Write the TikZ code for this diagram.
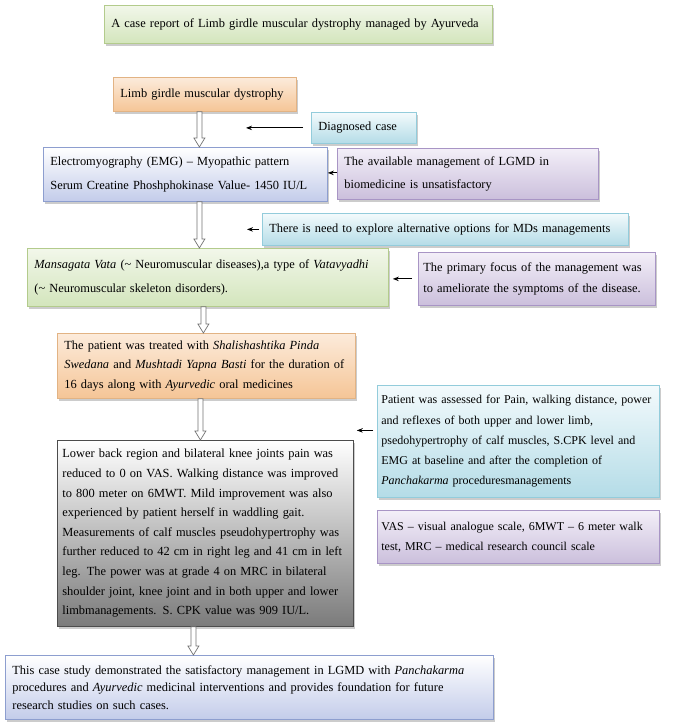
\documentclass[tikz,border=0pt]{standalone}
\usepackage{fontspec}
\setmainfont{Liberation Serif}
\usetikzlibrary{arrows.meta, shadows, calc}

\definecolor{grntop}{HTML}{F2F7EA}
\definecolor{grnbot}{HTML}{D3E5BC}
\definecolor{grnline}{HTML}{B3CB8C}
\definecolor{orgtop}{HTML}{FCEBDB}
\definecolor{orgbot}{HTML}{F5C596}
\definecolor{orgline}{HTML}{E2B384}
\definecolor{blutop}{HTML}{F3FAFC}
\definecolor{blubot}{HTML}{B4DCE7}
\definecolor{bluline}{HTML}{93CCDB}
\definecolor{lavtop}{HTML}{FFFFFF}
\definecolor{lavbot}{HTML}{C3CCEA}
\definecolor{lavline}{HTML}{8D9ECF}
\definecolor{prptop}{HTML}{F3EFF8}
\definecolor{prpbot}{HTML}{CBBFDC}
\definecolor{prpline}{HTML}{A895C5}

\newcommand{\boxfont}[1]{\fontsize{12.4}{#1}\selectfont}
\newcommand{\notefont}[1]{\fontsize{12}{#1}\selectfont}

\tikzset{
  card/.style={draw=#1, line width=0.8pt, anchor=north west, align=left,
    inner xsep=7pt, inner ysep=0pt,
    drop shadow={shadow xshift=2pt, shadow yshift=-3pt, opacity=0.4}},
  greencard/.style={card=grnline, top color=grntop, bottom color=grnbot},
  orangecard/.style={card=orgline, top color=orgtop, bottom color=orgbot},
  bluecard/.style={card=bluline, top color=blutop, bottom color=blubot},
  lavcard/.style={card=lavline, top color=lavtop, bottom color=lavbot},
  purplecard/.style={card=prpline, top color=prptop, bottom color=prpbot},
  greycard/.style={card=black!70, top color=white, bottom color=black!52},
  thinarr/.style={-{Stealth[length=6pt, width=4.5pt]}, line width=1pt},
  hollow/.style={draw=black!55, fill=white, line width=0.7pt,
    to path={let \p1=(\tikztostart), \p2=(\tikztotarget) in
      (\x1-2.5pt,\y1) -- (\x1-2.5pt,\y2+9pt) -- (\x1-5.5pt,\y2+9pt) -- (\x1,\y2)
      -- (\x1+5.5pt,\y2+9pt) -- (\x1+2.5pt,\y2+9pt) -- (\x1+2.5pt,\y1) -- cycle}}
}

\begin{document}
\begin{tikzpicture}[x=1pt, y=-1pt]
\useasboundingbox (0,0) rectangle (679,723);

% main column
\node[greencard, minimum width=388pt, minimum height=38pt, text width=374pt, font=\boxfont{15}] (title) at (104,5)
  {A case report of Limb girdle muscular dystrophy managed by Ayurveda};
\node[orangecard, minimum width=183pt, minimum height=34pt, text width=169pt, font=\boxfont{15}] (lgmd) at (113,77)
  {Limb girdle muscular dystrophy};
\node[lavcard, minimum width=284pt, minimum height=54pt, text width=270pt, font=\boxfont{24}] (emg) at (43,147)
  {Electromyography (EMG) -- Myopathic pattern\\Serum Creatine Phoshphokinase Value- 1450 IU/L};
\node[greencard, minimum width=361pt, minimum height=58pt, text width=347pt, font=\boxfont{24}] (mans) at (27,248)
  {\textit{Mansagata Vata} (\textasciitilde{} Neuromuscular diseases),a type of \textit{Vatavyadhi}\\(\textasciitilde{} Neuromuscular skeleton disorders).};
\node[orangecard, minimum width=298pt, minimum height=65pt, text width=284pt, font=\boxfont{19.5}] (treat) at (57,333)
  {The patient was treated with \textit{Shalishashtika Pinda}\\\textit{Swedana} and \textit{Mushtadi Yapna Basti} for the duration of\\16 days along with \textit{Ayurvedic} oral medicines};
\node[greycard, minimum width=296pt, minimum height=186pt, text width=286pt, inner xsep=5pt, font=\boxfont{19.6}] (outc) at (57,440)
  {Lower back region and bilateral knee joints pain was\\
   reduced to 0 on VAS. Walking distance was improved\\
   to 800 meter on 6MWT. Mild improvement was also\\
   experienced by patient herself in waddling gait.\\
   Measurements of calf muscles pseudohypertrophy was\\
   further reduced to 42 cm in right leg and 41 cm in left\\
   leg. The power was at grade 4 on MRC in bilateral\\
   shoulder joint, knee joint and in both upper and lower\\
   limbmanagements. S. CPK value was 909 IU/L.};
\node[lavcard, minimum width=488pt, minimum height=64pt, text width=474pt, font=\boxfont{17.5}] (concl) at (5,655)
  {This case study demonstrated the satisfactory management in LGMD with \textit{Panchakarma}\\
   procedures and \textit{Ayurvedic} medicinal interventions and provides foundation for future\\
   research studies on such cases.};

% side notes
\node[bluecard, minimum width=105pt, minimum height=31pt, text width=91pt, font=\boxfont{15}] (diag) at (311,112)
  {Diagnosed case};
\node[purplecard, minimum width=261pt, minimum height=51pt, text width=247pt, font=\boxfont{23}] (avail) at (337,148)
  {The available management of LGMD in\\biomedicine is unsatisfactory};
\node[bluecard, minimum width=366pt, minimum height=32pt, text width=352pt, font=\boxfont{15}] (need) at (262,213)
  {There is need to explore alternative options for MDs managements};
\node[purplecard, minimum width=237pt, minimum height=53pt, text width=227pt, inner xsep=5pt, font=\boxfont{21}] (prim) at (418,252)
  {The primary focus of the management was\\to ameliorate the symptoms of the disease.};
\node[bluecard, minimum width=282pt, minimum height=112pt, text width=274pt, inner xsep=4pt, font=\notefont{20.3}] (assess) at (377,385)
  {Patient was assessed for Pain, walking distance, power\\
   and reflexes of both upper and lower limb,\\
   psedohypertrophy of calf muscles, S.CPK level and\\
   EMG at baseline and after the completion of\\
   \textit{Panchakarma} proceduresmanagements};
\node[purplecard, minimum width=282pt, minimum height=53pt, text width=274pt, inner xsep=4pt, font=\notefont{20}] (abbr) at (377,510)
  {VAS -- visual analogue scale, 6MWT -- 6 meter walk\\test, MRC -- medical research council scale};

% hollow flow arrows
\draw[hollow] ([xshift=-5.5pt]lgmd.south) to (emg.north);
\draw[hollow] ([xshift=14pt]emg.south) to (mans.north);
\draw[hollow] ([xshift=-4.5pt]mans.south) to (treat.north);
\draw[hollow] ([xshift=-6pt]treat.south) to (outc.north);
\draw[hollow] ([xshift=-12pt]outc.south) to (concl.north);

% thin arrows
\draw[thinarr] ([xshift=-8pt]diag.west) -- ++(-57,0);
\draw[thinarr] ([yshift=1pt]avail.west) -- ([yshift=1pt]avail.west -| emg.east);
\draw[thinarr] ([xshift=-3pt]need.west) -- ++(-12,0);
\draw[thinarr, shorten <=6pt, shorten >=4pt] (prim.west) -- (prim.west -| mans.east);
\draw[thinarr, shorten <=4pt, shorten >=3pt] ([yshift=11pt]assess.west) -- ([yshift=11pt]assess.west -| outc.east);
\end{tikzpicture}
\end{document}
